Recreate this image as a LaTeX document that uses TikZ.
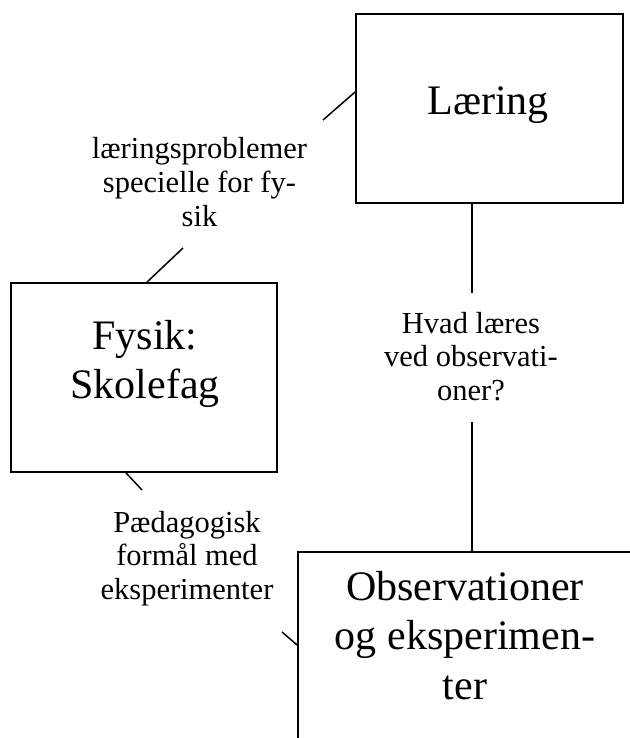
\documentclass[tikz,border=0pt]{standalone}
\usepackage{fontspec}
\setmainfont{Liberation Serif}
% centred stack of lines whose baseline is the first line
\newcommand{\cstack}[1]{\begin{tabular}[t]{@{}c@{}}#1\end{tabular}}
\begin{document}
\begin{tikzpicture}[x=1pt, y=-1pt,
  box/.style={draw, rectangle, inner sep=0pt, line width=1.8pt},
  bigtext/.style={anchor=base, inner sep=0pt, font=\fontsize{42}{49.5}\selectfont},
  smalltext/.style={anchor=base, inner sep=0pt, font=\fontsize{30.5}{33.5}\selectfont},
  link/.style={line width=1.5pt}]
\useasboundingbox (0,0) rectangle (629,738);

% boxes
\node[box, minimum width=267pt, minimum height=189pt] (laering) at (489.5,108.5) {};
\node[box, minimum width=266pt, minimum height=189pt] (fysik) at (144,377.5) {};
\node[box, minimum width=348pt, minimum height=200pt] (obs) at (472,652) {};

% box texts
\node[bigtext] (laeringtxt) at (488,115) {Læring};
\node[bigtext] (fysiktxt) at (145,349) {\cstack{Fysik:\\Skolefag}};
\node[bigtext] (obstxt) at (465,600) {\cstack{Observationer\\og eksperimen-\\ter}};

% link labels
\node[smalltext] (lab1) at (199.5,159) {\cstack{læringsproblemer\\specielle for fy-\\sik}};
\node[smalltext] (lab2) at (471,333) {\cstack{Hvad læres\\ved observati-\\oner?}};
\node[smalltext] (lab3) at (187,532) {\cstack{Pædagogisk\\formål med\\eksperimenter}};

% free ends of the links next to the labels
\coordinate (e1) at (323,120);
\coordinate (e2) at (183,248);
\coordinate (e3) at (472,293);
\coordinate (e4) at (472,422);
\coordinate (e5) at (142,490);
\coordinate (e6) at (282,632);

% links
\draw[link] ([yshift=16.5pt]laering.west) -- (e1);
\draw[link] (e2) -- ([xshift=3pt]fysik.north);
\draw[link] ([xshift=-17.5pt]laering.south) -- (e3);
\draw[link] (e4) -- (obs.north);
\draw[link] ([xshift=-18pt]fysik.south) -- (e5);
\draw[link] (e6) -- ([yshift=7pt]obs.west);
\end{tikzpicture}
\end{document}
